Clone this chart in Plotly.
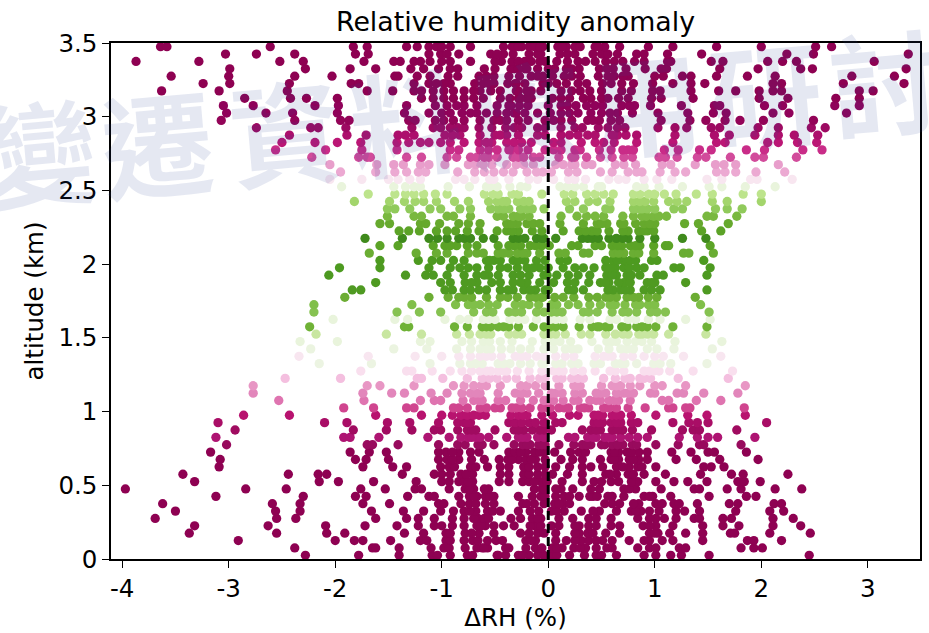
import plotly.graph_objects as go

altitudes = [3.475,3.425,3.375,3.325,3.275,3.225,3.175,3.125,3.075,3.025,2.975,2.925,2.875,2.825,2.775,2.725,2.675,2.625,2.575,2.525,2.475,2.425,2.375,2.325,2.275,2.225,2.175,2.125,2.075,2.025,1.975,1.925,1.875,1.825,1.775,1.725,1.675,1.625,1.575,1.525,1.475,1.425,1.375,1.325,1.275,1.225,1.175,1.125,1.075,1.025,0.975,0.925,0.875,0.825,0.775,0.725,0.675,0.625,0.575,0.525,0.475,0.425,0.375,0.325,0.275,0.225,0.175,0.125,0.075,0.025]

row_colors = ["#8e0152"]*7 + ["#8e0152","#90025a","#90025a","#930458","#9d0a62","#ad0f6c","#bb1675","#c92c88","#d24b9b","#e89ecb","#eca9d2","#f8e6f0","#e9f4dc","#bde48c","#a3d56c","#90ca5b","#79b83f","#66a92d","#5ca327","#3f8a1c","#5ba326","#6aad33","#4d9a20","#4d9a20","#4d9921","#4f9a21","#4f9a22","#6cad33","#80bf49","#86c251","#e9f4dc","#6fb236","#c8e6a0","#e9f4dc","#ebf4e0","#f8e6f0","#ecf4e2","#f9dfee","#f4bfdf","#e896c4","#e286bb","#df74b0","#d0458f","#b8136f","#a90d66","#a00b60","#ae1472","#980a5d"] + ["#8e0152"]*15

row_values = [
[-3.64,-3.58,-2.61,-1.83,-1.70,-1.33,-1.23,-1.12,-1.05,-0.92,-0.73,-0.42,-0.34,-0.25,-0.18,-0.1,-0.05,-0.32,-0.13,0.09,0.17,0.25,0.44,0.53,0.67,0.94,1.17,1.58,2.0,2.51,2.66],
[-3.03,-2.74,-2.38,-1.81,-1.69,-1.12,-1.01,-0.84,-0.54,-0.42,-0.33,-0.18,-0.07,0.11,0.18,0.42,0.5,0.65,0.83,0.9,1.12,1.44,2.24,2.49,3.38],
[-3.87,-3.28,-2.52,-2.30,-1.73,-1.45,-1.39,-1.26,-1.11,-1.0,-0.92,-0.73,-0.44,-0.34,-0.22,-0.28,-0.16,-0.03,0.08,0.18,0.28,0.44,0.54,0.62,0.81,0.9,1.12,1.15,1.53,1.64,2.06,2.2,2.33,3.06],
[-2.99,-2.28,-1.86,-1.62,-1.29,-1.17,-1.03,-0.92,-0.6,-0.5,-0.35,-0.2,-0.32,-0.22,-0.1,0.06,0.17,0.29,0.48,0.61,0.73,0.91,1.06,1.11,1.61,1.97,2.37,2.48,3.36],
[-3.54,-3.0,-2.38,-2.03,-1.44,-1.41,-1.23,-1.11,-0.94,-0.65,-0.58,-0.51,-0.37,-0.16,-0.05,0.04,0.15,0.22,0.47,0.56,0.62,0.75,1.0,1.08,1.26,1.34,1.58,1.87,2.13,2.85,3.25],
[-3.24,-2.99,-2.43,-1.85,-1.78,-1.26,-1.12,-1.05,-0.92,-0.69,-0.61,-0.51,-0.31,-0.3,-0.22,-0.05,0.08,0.17,0.28,0.51,0.59,0.69,0.98,1.17,1.34,1.47,2.11,2.19,2.77,3.34],
[-3.63,-3.09,-2.45,-1.7,-1.46,-1.26,-1.19,-1.08,-0.98,-0.89,-0.79,-0.64,-0.54,-0.45,-0.3,-0.28,-0.16,-0.07,0.12,0.22,0.39,0.5,0.69,0.98,1.05,1.34,1.6,1.76,1.98,2.11,2.19,2.92,3.05],
[-2.85,-2.42,-2.27,-1.98,-1.19,-1.08,-0.89,-0.79,-0.7,-0.61,-0.45,-0.36,-0.2,-0.28,-0.16,0.12,0.2,0.33,0.4,0.5,0.56,0.75,0.97,1.06,1.36,1.98,2.25,2.7,2.92],
[-3.05,-2.77,-2.19,-1.97,-1.33,-1.06,-0.86,-0.79,-0.67,-0.48,-0.37,-0.35,-0.19,0.12,0.18,0.36,0.44,0.51,0.69,0.81,0.96,1.25,1.56,1.61,2.03,2.2,2.69,2.92],
[-3.02,-2.65,-2.4,-1.98,-1.35,-1.12,-1.0,-0.81,-0.73,-0.67,-0.58,-0.48,-0.39,-0.32,-0.22,-0.1,0.12,0.2,0.4,0.5,0.65,0.79,1.03,1.31,1.55,1.67,2.11,2.26,2.8],
[-3.07,-2.38,-1.95,-1.87,-1.31,-1.25,-1.06,-0.89,-0.79,-0.64,-0.51,-0.39,-0.28,-0.19,-0.03,0.12,0.22,0.37,0.48,0.59,0.67,1.06,1.33,1.48,1.66,1.8,2.02,2.49],
[-2.74,-2.23,-2.16,-1.9,-1.28,-1.08,-1.01,-0.92,-0.79,-0.65,-0.53,-0.4,-0.25,-0.1,0.12,0.25,0.47,0.56,0.65,1.03,1.19,1.3,1.53,1.61,1.97,2.16,2.47,2.6],
[-2.43,-1.89,-1.71,-1.41,-1.34,-1.26,-0.97,-0.83,-0.64,-0.5,-0.39,-0.28,-0.03,0.12,0.2,0.28,0.37,0.65,0.73,0.83,1.19,1.56,1.7,1.94,2.16,2.31,2.53],
[-2.5,-2.19,-1.98,-1.76,-1.42,-1.31,-1.2,-1.12,-1.01,-0.92,-0.79,-0.65,-0.53,-0.39,-0.32,-0.16,0.12,0.31,0.44,0.62,0.83,1.17,1.58,1.66,2.06,2.16,2.34,2.52],
[-2.56,-2.09,-1.75,-1.42,-0.92,-0.84,-0.64,-0.48,-0.37,-0.35,-0.19,-0.03,0.12,0.25,0.48,0.59,0.75,0.8,1.09,1.22,1.42,1.53,1.86,2.03,2.39,2.57],
[-2.22,-1.78,-1.7,-1.67,-1.33,-1.19,-0.95,-0.86,-0.73,-0.67,-0.56,-0.48,-0.33,-0.23,-0.14,0.22,0.25,0.36,0.49,0.6,0.71,0.79,1.04,1.1,1.21,1.4,1.48,1.71,1.94,2.02,2.33],
[-2.05,-1.61,-1.45,-1.36,-1.2,-1.12,-0.97,-0.75,-0.61,-0.53,-0.39,-0.23,-0.14,0.07,0.14,0.22,0.35,0.41,0.63,0.71,0.82,1.07,1.15,1.38,1.57,1.65,1.76,2.16],
[-1.95,-1.62,-1.44,-1.33,-1.22,-1.15,-0.85,-0.69,-0.51,-0.42,-0.33,-0.2,-0.11,0.03,0.19,0.27,0.49,0.6,0.83,0.88,1.05,1.19,1.29,1.58,1.66,1.76,1.95,2.22],
[-2.05,-1.75,-1.5,-1.41,-1.3,-1.2,-0.87,-0.79,-0.69,-0.51,-0.37,-0.18,0.19,0.25,0.35,0.57,0.66,0.73,0.9,1.02,1.16,1.49,1.63,1.9,1.96,2.29],
[-1.94,-1.45,-1.34,-1.26,-1.2,-0.94,-0.74,-0.58,-0.48,-0.36,-0.26,0.11,0.18,0.33,0.47,0.5,0.83,0.9,1.04,1.26,1.51,1.63,1.85,2.13],
[-1.69,-1.44,-1.34,-1.26,-1.17,-1.06,-0.95,-0.6,-0.47,-0.34,-0.06,0.15,0.23,0.36,0.44,0.52,0.61,0.86,0.94,1.0,1.09,1.2,1.39,1.54,1.83,2.0],
[-1.82,-1.49,-1.35,-1.25,-1.17,-1.05,-0.88,-0.75,-0.56,-0.48,-0.39,-0.29,-0.23,0.17,0.25,0.38,0.46,0.58,0.8,0.91,0.99,1.13,1.21,1.3,1.54,1.68,2.0],
[-1.51,-1.44,-1.3,-1.11,-1.01,-0.83,-0.73,-0.54,-0.47,-0.37,-0.26,-0.15,-0.04,0.2,0.33,0.54,0.58,0.85,0.93,1.0,1.18,1.26,1.57,1.68,1.82],
[-1.51,-1.26,-1.19,-0.95,-0.89,-0.73,-0.48,-0.33,-0.25,-0.18,0.12,0.27,0.36,0.44,0.8,0.88,0.99,1.04,1.11,1.49,1.55,1.77],
[-1.58,-1.49,-1.2,-1.15,-1.02,-0.84,-0.75,-0.64,-0.39,-0.29,-0.2,-0.14,0.11,0.33,0.46,0.55,0.68,0.71,0.82,0.9,1.0,1.28,1.41,1.69],
[-1.4,-1.31,-1.21,-1.05,-0.95,-0.87,-0.76,-0.65,-0.48,-0.39,-0.28,-0.15,-0.06,0.14,0.29,0.41,0.46,0.57,0.75,0.85,0.93,0.99,1.44,1.62],
[-1.72,-1.37,-1.12,-1.04,-0.95,-0.79,-0.73,-0.61,-0.51,-0.33,-0.22,-0.11,-0.04,-0.06,0.07,0.32,0.41,0.47,0.57,0.64,0.75,0.86,1.0,1.26,1.48],
[-1.58,-1.41,-1.08,-0.97,-0.86,-0.76,-0.67,-0.47,-0.37,-0.26,-0.17,-0.06,0.01,0.22,0.28,0.44,0.5,0.6,0.69,0.77,0.86,0.99,1.1,1.13,1.52],
[-1.68,-1.24,-1.05,-0.95,-0.75,-0.67,-0.61,-0.47,-0.37,-0.29,-0.2,-0.08,0.1,0.16,0.33,0.38,0.61,0.71,0.8,0.99,1.27,1.32,1.55],
[-1.58,-1.22,-1.09,-1.01,-0.89,-0.79,-0.58,-0.51,-0.45,-0.33,-0.22,-0.11,-0.03,0.11,0.18,0.54,0.61,0.71,0.77,0.97,1.02,1.46],
[-1.96,-1.58,-1.12,-0.92,-0.83,-0.67,-0.56,-0.45,-0.29,-0.2,-0.08,0.0,0.14,0.25,0.33,0.43,0.54,0.63,0.71,0.83,0.9,1.18,1.24,1.52],
[-2.06,-1.34,-1.15,-1.08,-0.95,-0.79,-0.67,-0.56,-0.47,-0.33,-0.18,-0.04,-0.01,0.08,0.19,0.28,0.39,0.55,0.64,0.74,0.86,1.02,1.08,1.49],
[-1.62,-1.01,-0.92,-0.78,-0.67,-0.53,-0.33,-0.2,-0.08,0.05,0.18,0.38,0.49,0.57,0.71,0.77,0.93,0.97,1.29],
[-1.84,-1.76,-0.97,-0.9,-0.79,-0.73,-0.58,-0.45,-0.33,-0.23,-0.12,-0.03,0.0,0.19,0.24,0.33,0.61,0.68,0.77,0.9,1.05,1.49],
[-1.91,-1.12,-0.94,-0.79,-0.72,-0.58,-0.45,-0.29,-0.17,-0.06,-0.05,0.06,0.14,0.24,0.38,0.46,0.54,0.64,0.74,0.85,0.94,1.02,1.38],
[-2.2,-1.28,-0.87,-0.75,-0.64,-0.56,-0.48,-0.31,-0.18,-0.09,0.03,0.19,0.28,0.39,0.49,0.63,0.72,0.82,0.94,1.0,1.43],
[-2.2,-1.42,-1.21,-1.01,-0.7,-0.58,-0.37,-0.25,-0.11,-0.04,0.03,0.13,0.33,0.46,0.6,0.75,0.83,0.96,1.1,1.51],
[-2.02,-1.44,-1.32,-0.97,-0.83,-0.75,-0.61,-0.5,-0.36,-0.22,-0.11,0.07,0.14,0.3,0.39,0.64,0.75,0.94,1.05,1.29,1.52],
[-2.24,-1.35,-1.31,-0.88,-0.76,-0.62,-0.54,-0.47,-0.37,-0.28,-0.14,-0.04,0.07,0.14,0.29,0.41,0.46,0.54,0.57,0.69,0.74,0.83,0.93,1.01,1.17,1.49],
[-2.18,-1.52,-1.19,-0.86,-0.74,-0.64,-0.54,-0.37,-0.25,-0.04,0.07,0.16,0.31,0.39,0.54,0.63,0.75,0.85,0.93,0.99,1.13,1.48],
[-2.33,-1.98,-1.2,-1.11,-0.81,-0.72,-0.61,-0.45,-0.34,-0.15,-0.03,0.11,0.21,0.41,0.55,0.64,0.74,0.88,0.97,1.19,1.63],
[-2.23,-1.45,-1.14,-0.86,-0.73,-0.64,-0.54,-0.44,-0.26,-0.17,-0.04,0.05,0.16,0.28,0.47,0.57,0.68,0.8,0.93,1.02,1.18,1.54],
[-2.34,-1.69,-1.25,-1.0,-0.84,-0.73,-0.64,-0.53,-0.44,-0.31,-0.2,-0.11,-0.04,0.07,0.16,0.24,0.44,0.52,0.6,0.71,0.79,0.9,1.0,1.08,1.27,1.62],
[-2.15,-1.66,-1.11,-0.83,-0.73,-0.62,-0.47,-0.36,-0.26,-0.17,-0.06,-0.04,0.13,0.22,0.28,0.43,0.49,0.63,0.72,0.83,0.99,1.05,1.15,1.49],
[-1.76,-1.33,-1.28,-1.09,-0.92,-0.81,-0.72,-0.64,-0.54,-0.47,-0.39,-0.29,-0.18,-0.06,0.05,0.14,0.24,0.32,0.44,0.63,0.71,0.9,0.99,1.04,1.14,1.36,1.73],
[-2.47,-1.95,-1.23,-1.19,-0.99,-0.76,-0.62,-0.48,-0.39,-0.17,-0.08,-0.03,0.08,0.13,0.28,0.33,0.52,0.63,0.77,0.86,0.96,1.22,1.69],
[-2.77,-1.7,-1.58,-1.26,-0.89,-0.79,-0.7,-0.58,-0.45,-0.26,-0.12,-0.03,0.1,0.24,0.3,0.5,0.6,0.68,0.77,0.86,1.0,1.07,1.29,1.85],
[-2.77,-1.74,-1.47,-1.35,-1.1,-0.95,-0.81,-0.73,-0.64,-0.47,-0.31,-0.2,-0.09,0.07,0.13,0.25,0.32,0.49,0.54,0.64,0.71,0.8,0.96,1.0,1.21,1.27,1.46,1.78],
[-2.53,-1.73,-1.2,-1.07,-1.01,-0.8,-0.7,-0.62,-0.47,-0.26,-0.14,-0.04,0.05,0.14,0.28,0.39,0.49,0.57,0.66,0.77,1.07,1.13,1.39,1.62],
[-1.92,-1.64,-1.33,-1.26,-0.89,-0.84,-0.76,-0.64,-0.58,-0.45,-0.34,-0.25,-0.17,-0.06,0.0,0.02,0.1,0.19,0.3,0.38,0.52,0.64,0.75,0.91,1.13,1.17,1.29,1.33,1.84],
[-2.86,-2.43,-1.62,-1.19,-1.0,-0.9,-0.82,-0.76,-0.65,-0.59,-0.35,-0.28,-0.2,-0.06,0.04,0.2,0.28,0.43,0.51,0.6,0.68,0.78,1.01,1.31,1.49,1.85],
[-3.1,-2.1,-1.89,-1.51,-1.3,-1.03,-0.85,-0.79,-0.73,-0.37,-0.31,-0.18,-0.12,-0.03,-0.04,0.07,0.13,0.43,0.51,0.59,0.68,0.78,0.84,1.17,1.32,1.4,1.5,2.05],
[-2.94,-1.83,-1.52,-1.28,-1.07,-1.01,-0.85,-0.76,-0.68,-0.5,-0.32,-0.23,-0.15,-0.04,0.03,0.32,0.4,0.49,0.6,0.7,0.79,0.97,1.26,1.36,1.42,1.77],
[-3.12,-1.92,-1.86,-1.59,-1.13,-0.93,-0.82,-0.75,-0.68,-0.64,-0.39,-0.28,-0.2,-0.1,-0.04,0.19,0.37,0.45,0.53,0.6,0.68,0.76,0.84,0.93,1.23,1.4,1.5,1.59,1.94],
[-3.02,-1.7,-1.65,-1.41,-1.03,-0.85,-0.78,-0.62,-0.51,-0.32,-0.24,-0.17,-0.09,-0.03,0.1,0.24,0.32,0.4,0.53,0.6,0.7,0.79,1.01,1.22,1.42,1.46,1.81],
[-3.17,-1.86,-1.68,-1.52,-1.03,-0.96,-0.84,-0.73,-0.65,-0.37,-0.31,-0.21,-0.13,-0.04,0.06,0.21,0.29,0.35,0.59,0.66,0.74,0.85,0.93,1.16,1.34,1.5,1.56,1.86],
[-3.08,-1.81,-1.71,-1.5,-1.03,-0.95,-0.84,-0.72,-0.6,-0.46,-0.38,-0.28,-0.21,-0.12,-0.03,0.12,0.23,0.32,0.49,0.59,0.66,0.76,0.85,0.93,1.2,1.39,1.61,1.97],
[-3.09,-1.74,-1.46,-1.33,-1.01,-0.93,-0.73,-0.57,-0.45,-0.37,-0.23,-0.1,-0.03,0.07,0.2,0.32,0.4,0.51,0.64,0.76,0.84,1.01,1.46,1.53,1.65],
[-3.43,-2.44,-2.16,-2.08,-1.37,-1.07,-1.0,-0.92,-0.82,-0.71,-0.45,-0.37,-0.23,-0.1,-0.03,0.04,0.18,0.32,0.54,0.64,0.75,0.9,1.1,1.43,1.72,1.83,2.25],
[-3.32,-2.15,-1.97,-1.64,-1.24,-1.0,-0.93,-0.84,-0.79,-0.71,-0.46,-0.37,-0.24,-0.18,-0.07,-0.01,0.13,0.32,0.43,0.59,0.66,0.84,1.01,1.18,1.31,1.49,1.78,1.84,1.99],
[-3.97,-2.84,-2.46,-1.76,-1.53,-1.25,-1.19,-0.93,-0.78,-0.7,-0.56,-0.13,-0.06,-0.04,0.12,0.23,0.48,0.71,0.82,1.06,1.37,1.42,1.68,1.81,2.13,2.38],
[-3.12,-2.3,-1.81,-1.71,-1.32,-1.12,-1.07,-0.84,-0.74,-0.67,-0.59,-0.51,-0.28,-0.15,-0.07,0.07,0.15,0.29,0.39,0.42,0.56,0.6,0.71,0.9,0.98,1.15,1.51,1.86,1.95],
[-3.62,-2.59,-2.33,-1.74,-1.49,-1.03,-0.98,-0.82,-0.74,-0.59,-0.51,-0.24,-0.13,-0.04,0.06,0.14,0.2,0.53,0.67,0.85,1.01,1.07,1.18,1.23,1.4,1.7,1.78,2.12,2.19],
[-3.5,-2.56,-2.33,-1.66,-1.36,-1.17,-1.01,-0.89,-0.79,-0.68,-0.57,-0.45,-0.28,-0.17,-0.09,0.03,0.15,0.31,0.48,0.64,0.78,0.87,0.95,1.04,1.2,1.28,1.42,1.76,2.08,2.21],
[-3.69,-2.55,-2.37,-1.62,-1.33,-1.22,-1.07,-0.9,-0.79,-0.66,-0.6,-0.35,-0.26,-0.15,-0.07,0.1,0.23,0.38,0.59,0.84,1.01,1.09,1.2,1.37,1.42,1.64,1.72,2.11,2.3],
[-3.32,-2.63,-2.09,-1.72,-1.42,-1.22,-1.07,-1.0,-0.9,-0.79,-0.67,-0.59,-0.51,-0.42,-0.32,-0.13,-0.07,0.03,0.1,0.29,0.38,0.59,0.67,0.89,1.01,1.17,1.45,1.64,1.79,2.11,2.37],
[-3.37,-2.55,-2.08,-1.91,-1.35,-1.17,-0.96,-0.92,-0.78,-0.65,-0.51,-0.26,-0.1,-0.04,0.07,0.29,0.37,0.54,0.67,0.95,1.03,1.14,1.29,1.45,1.71,1.75,2.08,2.46],
[-2.91,-2.0,-1.82,-1.74,-1.48,-1.2,-1.14,-0.96,-0.92,-0.79,-0.71,-0.57,-0.49,-0.43,-0.21,-0.12,0.07,0.17,0.31,0.38,0.51,0.6,0.76,0.9,1.07,1.17,1.45,1.87,1.93,2.19],
[-2.38,-1.65,-1.62,-1.4,-1.1,-0.98,-0.93,-0.78,-0.67,-0.62,-0.57,-0.4,-0.21,-0.12,-0.06,0.04,0.13,0.24,0.35,0.45,0.6,0.84,0.95,1.01,1.23,1.29,1.81,1.93,2.01],
[-2.28,-1.78,-1.4,-1.09,-1.04,-0.92,-0.76,-0.71,-0.48,-0.4,-0.28,-0.18,-0.1,-0.04,0.03,0.2,0.34,0.45,0.64,0.9,1.01,1.15,1.25,1.51,2.45],
]

# A smaller set of points inside the dense core, read row by row (same altitude order).
core_values = [
[-1.0,-0.28,-0.08,0.13,0.3,0.47],
[-0.95,-0.48,-0.1,0.25,0.56],
[-1.2,-0.5,-0.08,0.35,0.7],
[-0.85,-0.28,0.0,0.22,0.55],
[-0.85,-0.27,-0.1,0.3,0.7],
[-0.98,-0.56,-0.38,0.0,0.36,0.8],
[-0.7,-0.2,0.3,0.78],
[-0.98,-0.26,0.04,0.66],
[-0.95,-0.27,0.0,0.26,0.76],
[-0.92,-0.3,0.02,0.28,0.58],
[-0.98,-0.45,0.05,0.42],
[-0.85,-0.32,-0.03,0.32,0.72],
[-0.9,-0.45,-0.1,0.44,0.6],
[-0.58,-0.25,0.05,0.52],
[-0.56,-0.28,0.05,0.3,0.7],
[-0.6,-0.28,-0.08,0.1],
[-0.68,-0.3,0.25],
[-0.6,-0.05,0.75],
[-0.55,-0.1,0.05],
[-0.55,-0.2,0.25],
[-0.52,-0.28,0.8],
[-0.43,-0.18,0.86],
[-0.42,-0.2,0.88,0.8],
[-0.42,-0.28,0.52,0.92,0.7],
[-0.34,-0.08,0.5,0.95],
[-0.34,0.35,0.7,0.9],
[-0.84,-0.28,0.37,0.7],
[-0.92,-0.32,-0.12,0.65,0.82],
[-0.42,-0.24,0.66,0.85],
[-0.55,-0.28,0.65,0.82],
[-0.75,-0.38,-0.14,0.58,0.76],
[-0.6,-0.26,0.6,0.78],
[-0.72,-0.45,-0.26,0.25,0.53,0.66,1.0],
[-0.65,-0.38,-0.17,0.56,0.72,0.97],
[-0.84,-0.38,-0.12,0.58,0.8],
[-0.7,-0.24,0.08,0.58,0.86],
[-0.52,-0.31,0.08,0.38,0.7,1.02],
[-0.56,-0.28,0.02,0.58,0.82],
[-0.58,-0.42,0.02,0.48,0.88],
[-0.58,-0.3,0.02,0.7,0.88],
[-0.55,0.05,0.6,0.82],
[-0.58,-0.35,0.22,0.74],
[-0.58,-0.25,0.56],
[-0.68,-0.42,0.07,0.68],
[-0.58,-0.42,0.1,0.58,0.95],
[-0.55,-0.3,0.22,0.72,0.9],
[-0.63,-0.2,0.27,0.64],
[-0.68,-0.25,0.03,0.45,0.75],
[-0.65,-0.4,0.0,0.24,0.45,0.62],
[-0.5,-0.3,0.15,0.34,0.57],
[-0.7,-0.24,0.47,0.64],
[-0.76,-0.25,0.47,0.64],
[-0.72,-0.28,-0.08,0.45,0.65],
[-0.72,-0.56,-0.24,0.25,0.42,0.57],
[-0.66,-0.2,-0.06,0.36,0.5,0.65,0.83],
[-0.9,-0.26,-0.08,0.62,0.78],
[-0.9,-0.34,-0.16,0.62,0.8],
[-0.88,-0.68,-0.18,0.7,0.88],
[-0.77,-0.18,0.58,0.8],
[-0.75,-0.13,0.5,0.78],
[-0.74,-0.6,0.07,0.4,0.76],
[-0.7,-0.55,-0.03,0.2,0.46,0.95],
[-0.68,-0.2,0.1,0.6,0.8],
[-0.74,-0.52,0.08,0.42,0.82],
[-0.7,-0.56,-0.1,0.45,0.95],
[-0.63,-0.17,0.25,0.45,0.95],
[-0.72,-0.18,0.25,0.42,1.0],
[-0.66,-0.16,0.25,0.45,0.95],
[-0.6,-0.37,0.08,0.3,0.55],
[-0.47,-0.24,0.08,0.5],
]

x_tick_values = [-4,-3,-2,-1,0,1,2,3]
x_tick_labels = ["-4","-3","-2","-1","0","1","2","3"]
y_tick_values = [0,0.5,1,1.5,2,2.5,3,3.5]
y_tick_labels = ["0","0.5","1","1.5","2","2.5","3","3.5"]
watermark_chars = ["變","遷","資","料","應","用","研","討"]
watermark_px = [(40,148),(157,140),(285,128),(405,118),(525,110),(645,100),(765,90),(885,78)]

assert len(altitudes) == len(row_colors) == len(row_values) == len(core_values)

xs, ys, cs = [], [], []
for alt, col, vals, core in reversed(list(zip(altitudes, row_colors, row_values, core_values))):
    xs += vals + core
    ys += [alt]*(len(vals)+len(core))
    cs += [col]*(len(vals)+len(core))

FONT = "DejaVu Sans"
fig = go.Figure()
fig.add_trace(go.Scatter(x=xs, y=ys, mode="markers", hoverinfo="skip",
    marker=dict(size=9.3, color=cs, line=dict(width=0))))
fig.add_trace(go.Scatter(x=[0,0], y=[0,3.5], mode="lines", hoverinfo="skip",
    line=dict(color="black", width=3, dash="9px,4px")))

L, R, T, B = 111, 920, 43, 559
annots = [dict(text=ch, xref="paper", yref="paper", showarrow=False,
    x=(px-L)/(R-L), y=(B-py)/(B-T), xanchor="center", yanchor="middle", textangle=-5,
    font=dict(family="Noto Sans CJK TC", size=112, weight=700, color="rgba(50,70,150,0.125)"))
    for ch,(px,py) in zip(watermark_chars, watermark_px)]

axis = dict(showgrid=False, zeroline=False, showline=True, mirror=True, linecolor="black", automargin=False,
    linewidth=1.5, ticks="outside", ticklen=7, tickwidth=1.4, tickcolor="black",
    tickfont=dict(family=FONT, size=24.5, color="black"))
title_font = dict(family=FONT, size=24.5, color="black")
fig.update_layout(
    width=929, height=633, autosize=False, showlegend=False,
    paper_bgcolor="white", plot_bgcolor="white",
    margin=dict(l=L, r=929-R, t=T, b=633-B),
    title=dict(text="Relative humidity anomaly", x=515.5/929, xanchor="center", y=1-22/633, yanchor="middle",
        font=dict(family=FONT, size=26.8, color="black")),
    xaxis=dict(axis, range=[-4.105,3.49], tickmode="array", tickvals=x_tick_values, ticktext=x_tick_labels,
        title=dict(text="ΔRH (%)", font=title_font, standoff=6)),
    yaxis=dict(axis, range=[0,3.5], tickmode="array", tickvals=y_tick_values, ticktext=y_tick_labels,
        title=dict(text="altitude (km)", font=title_font, standoff=8)),
    annotations=annots,
)
fig.write_html("out.html", config=dict(displayModeBar=False),
    post_script="document.body.style.margin='0';document.body.style.overflow='hidden';")
